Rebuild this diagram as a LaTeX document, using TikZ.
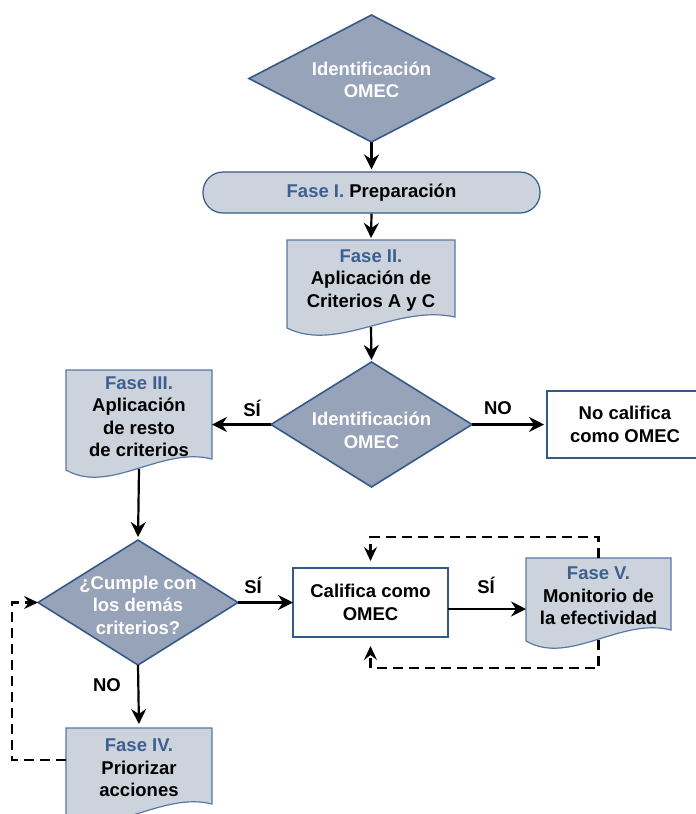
\documentclass[tikz,border=0pt]{standalone}
\usepackage{fontspec}
\setmainfont{Liberation Sans}
\usetikzlibrary{shapes.geometric, arrows.meta, backgrounds, calc}
\definecolor{dfill}{HTML}{97A3B9}
\definecolor{dline}{HTML}{34598A}
\definecolor{pfill}{HTML}{CDD3DD}
\definecolor{pline}{HTML}{5878A5}
\definecolor{fasec}{HTML}{3D5F8F}
\tikzset{
  txt/.style={font=\fontsize{18.5}{22.5}\selectfont\bfseries, align=center, inner sep=0pt},
  dec/.style={diamond, draw=dline, fill=dfill, line width=1.6pt, inner sep=0pt, outer sep=0pt},
  dectxt/.style={txt, text=white},
  docnode/.style={rectangle, inner sep=0pt, outer sep=0pt, txt},
  docfill/.style={draw=pline, fill=pfill, line width=1.2pt},
  plainbox/.style={rectangle, draw=dline, fill=white, line width=1.2pt, txt, outer sep=0pt},
  conn/.style={line width=2.2pt, -{Stealth[length=15pt,width=15pt,inset=5pt]}},
  dconn/.style={line width=2.2pt, dash pattern=on 10pt off 6pt, -{Stealth[length=14pt,width=13pt,inset=5pt]}},
}
\newcommand\fase[1]{\textcolor{fasec}{#1}}
\newcommand\docpath[1]{%
  \path[docfill] (#1.north west) -- (#1.north east) -- ($(#1.south east)+(0,-4)$)
    .. controls ($(#1.south west)!0.65!(#1.south east)+(0,-17)$) and ($(#1.south west)!0.3!(#1.south east)+(0,32)$) .. ($(#1.south west)+(0,7)$) -- cycle;
  \coordinate (#1-b) at ($(#1.south)+(0,6)$);}
\begin{document}
\begin{tikzpicture}[x=1pt, y=-1pt]
\useasboundingbox (0,0) rectangle (696,814);
\clip (0,0) rectangle (696,814);
% diamonds
\node[dec, minimum width=245pt, minimum height=127pt] (d1) at (371.5,78.5) {};
\node[dectxt] (d1t) at (371.5,80) {Identificación\\OMEC};
\node[dec, minimum width=201pt, minimum height=125pt] (d2) at (371.5,424.5) {};
\node[dectxt] (d2t) at (371.5,430.5) {Identificación\\OMEC};
\node[dec, minimum width=200pt, minimum height=125pt] (d3) at (138,602.5) {};
\node[dectxt] (d3t) at (138,605) {¿Cumple con\\los demás\\criterios?};
% Fase I
\node[txt, draw=dline, fill=pfill, line width=1.2pt, rounded corners=20pt, minimum width=337pt, minimum height=41pt] (f1) at (371.5,192.5) {\fase{Fase I.} Preparación};
% documents
\node[docnode, minimum width=168pt, minimum height=81pt] (f2) at (371,280.5) {\fase{Fase II.}\\Aplicación de\\Criterios A y C};
\node[docnode, minimum width=146pt, minimum height=93pt] (f3) at (139,416.5) {\fase{Fase III.}\\Aplicación\\de resto\\de criterios};
\node[docnode, minimum width=145pt, minimum height=76pt] (f5) at (598.5,596) {\fase{Fase V.}\\Monitorio de\\la efectividad};
\node[docnode, minimum width=146pt, minimum height=80pt] (f4) at (139,768) {\fase{Fase IV.}\\Priorizar\\acciones};
\begin{scope}[on background layer]
  \docpath{f2}
  \docpath{f3}
  \docpath{f5}
  \docpath{f4}
\end{scope}
% boxes
\node[plainbox, minimum width=156pt, minimum height=67pt] (nc) at (625,424.5) {No califica\\como OMEC};
\node[plainbox, minimum width=155pt, minimum height=69pt] (cal) at (370.5,602.5) {Califica como\\OMEC};
% connectors
\draw[conn, shorten >=2pt] (d1.south) -- (f1.north);
\draw[conn, shorten >=2pt] (f1.south) -- (f2.north);
\draw[conn, shorten >=2pt] (f2-b) -- (d2.north);
\draw[conn] (d2.west) -- (d2.west -| f3.east);
\draw[conn, shorten >=3pt] (d2.east) -- (nc.west);
\draw[conn, shorten >=3pt] (f3-b) -- (d3.north);
\draw[conn] (d3.east) -- (cal.west);
\draw[conn] ([yshift=-6.5pt]cal.east) -- ([yshift=-6.5pt]cal.east -| f5.west);
\draw[conn, shorten >=4pt] (d3.south) -- (f4.north);
\draw[dconn] ([yshift=8pt]f4.west) -- ++(-54,0) |- (d3.west);
\draw[dconn, shorten >=7pt] (f5.north) -- ++(0,-21) -| (cal.north);
\draw[dconn, shorten >=9pt] (f5-b) -- ++(0,28) -| (cal.south);
% labels
\node[txt] (l1) at (252,408) {SÍ};
\node[txt] (l2) at (498,408) {NO};
\node[txt] (l3) at (253,585) {SÍ};
\node[txt] (l4) at (486,585) {SÍ};
\node[txt] (l5) at (107,685) {NO};
\end{tikzpicture}
\end{document}
